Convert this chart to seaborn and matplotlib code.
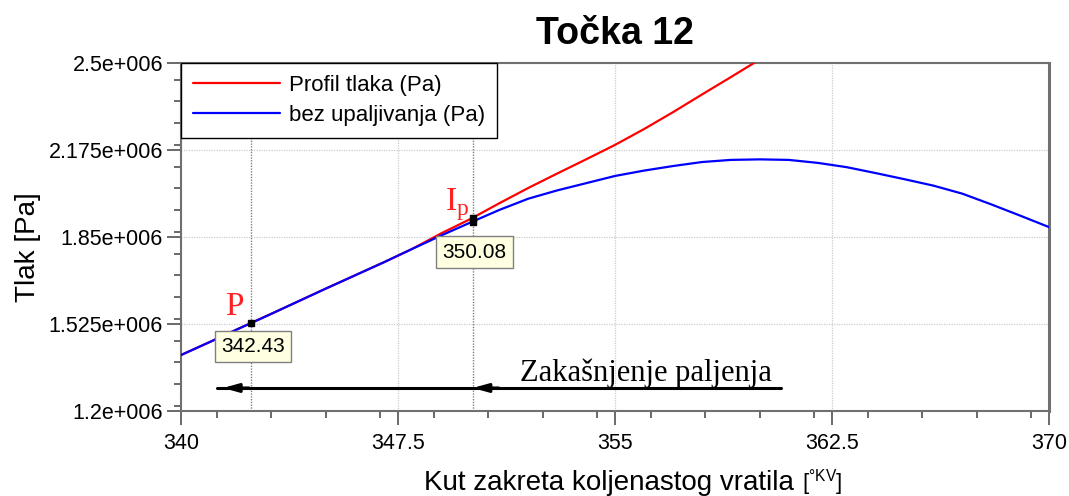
import numpy as np
import pandas as pd
import matplotlib
matplotlib.use("Agg")
import matplotlib.pyplot as plt
from matplotlib.ticker import FixedLocator, FixedFormatter, MultipleLocator
import seaborn as sns

# ---- data ----
angle_blue = [340, 341, 342, 343, 344, 345, 346, 347, 348, 349, 350, 351, 352, 353, 354,
              355, 356, 357, 358, 359, 360, 361, 362, 363, 364, 365, 366, 367, 368, 369, 370]
p_blue = [1.409, 1.458, 1.508, 1.557, 1.607, 1.657, 1.706, 1.755, 1.806, 1.856, 1.904, 1.951,
          1.993, 2.024, 2.051, 2.078, 2.098, 2.115, 2.130, 2.138, 2.140, 2.138, 2.127, 2.111,
          2.089, 2.066, 2.042, 2.012, 1.972, 1.930, 1.887]
angle_red = [340, 341, 342, 343, 344, 345, 346, 347, 348, 349, 350, 351, 352, 353, 354,
             355, 356, 357, 358, 359, 360, 360.5]
p_red = [1.409, 1.458, 1.508, 1.557, 1.607, 1.657, 1.706, 1.755, 1.806, 1.864, 1.917, 1.976,
         2.033, 2.087, 2.140, 2.194, 2.253, 2.316, 2.382, 2.447, 2.513, 2.546]

marker_x = [342.43, 350.08, 350.08]
marker_p = [1.529, 1.907, 1.921]
point_labels = ["342.43", "350.08"]
point_label_y = [1.529, 1.907]

delay_start, delay_end = 342.43, 350.08
arrow_span = [341.25, 360.75]
arrow_level = 1.286

yticks = [1.2, 1.525, 1.85, 2.175, 2.5]
ytick_labels = ["1.2e+006", "1.525e+006", "1.85e+006", "2.175e+006", "2.5e+006"]
xticks = [340, 347.5, 355, 362.5, 370]
xtick_labels = ["340", "347.5", "355", "362.5", "370"]

legend_labels = ["Profil tlaka (Pa)", "bez upaljivanja (Pa)"]

# ---- plot ----
sns.set_style("white")
plt.rcParams['font.family'] = ['Liberation Sans', 'DejaVu Sans']
plt.rcParams['text.color'] = 'black'
plt.rcParams['axes.labelcolor'] = 'black'
plt.rcParams['xtick.color'] = 'black'
plt.rcParams['ytick.color'] = 'black'

fig = plt.figure(figsize=(10.69, 4.96), dpi=100)
ax = fig.add_axes([181/1069, 1 - 411/496, (1049-181)/1069, (411-63)/496])

df_red = pd.DataFrame({"x": angle_red, "y": np.array(p_red) * 1e6})
df_blue = pd.DataFrame({"x": angle_blue, "y": np.array(p_blue) * 1e6})
sns.lineplot(data=df_red, x="x", y="y", ax=ax, color="#ff0000", lw=1.6, label=legend_labels[0], zorder=3)
sns.lineplot(data=df_blue, x="x", y="y", ax=ax, color="#0000ff", lw=1.6, label=legend_labels[1], zorder=4)

ax.set_xlim(340, 370)
ax.set_ylim(1.2e6, 2.5e6)

ax.xaxis.set_major_locator(FixedLocator(xticks))
ax.xaxis.set_major_formatter(FixedFormatter(xtick_labels))
ax.xaxis.set_minor_locator(MultipleLocator(1.875))
ax.yaxis.set_major_locator(FixedLocator([v * 1e6 for v in yticks]))
ax.yaxis.set_major_formatter(FixedFormatter(ytick_labels))
ax.yaxis.set_minor_locator(MultipleLocator(0.08125e6))

ax.tick_params(axis="both", which="major", direction="out", length=10, width=1.2,
               color="#505050", labelcolor="black", labelsize=15.5, pad=3, left=True, bottom=True)
ax.tick_params(axis="both", which="minor", direction="out", length=5, width=1.2,
               color="#505050", left=True, bottom=True)
ax.tick_params(axis="x", pad=6)

ax.grid(True, which="major", color="#cccccc", linestyle=(0, (1, 1)), lw=0.9)
for s in ax.spines.values():
    s.set_color("#707070")
    s.set_linewidth(1.5)
ax.spines["right"].set_linewidth(2.2)

for xv in [delay_start, delay_end]:
    ax.axvline(xv, color="#808080", linestyle=(0, (1, 1)), lw=1.0, zorder=2)

ax.plot(marker_x, [v * 1e6 for v in marker_p], linestyle="none", marker="s",
        ms=4, color="black", zorder=6)

offsets = [(-21.6, -10), (-21.6, -15)]
for xv, yv, txt, off in zip([delay_start, delay_end], point_label_y, point_labels, offsets):
    ax.annotate(txt, xy=(xv, yv * 1e6), xytext=off, textcoords="offset points",
                ha="left", va="top", fontsize=15, color="black",
                bbox=dict(boxstyle="square,pad=0.3", fc="#ffffe1", ec="#808080", lw=1.0),
                zorder=7)

ax.text(341.52, 1.5587e6, "P", color="#ff2020", fontsize=24, family="Liberation Serif",
        ha="left", va="baseline", zorder=7)
ax.text(349.13, 1.951e6, r"I$_\mathregular{p}$", color="#ff2020", fontsize=24,
        family="Liberation Serif", ha="left", va="baseline", zorder=7)

# delay arrow
ax.plot(arrow_span, [arrow_level * 1e6] * 2, color="black", lw=2.2, zorder=5)
for tip in [341.45, delay_end]:
    ax.annotate("", xy=(tip, arrow_level * 1e6), xytext=(tip + 0.9, arrow_level * 1e6),
                arrowprops=dict(arrowstyle="-|>,head_length=0.9,head_width=0.25",
                                color="black", lw=2.2, shrinkA=0, shrinkB=0), zorder=6)
ax.text(351.72, 1.312e6, "Zakašnjenje paljenja", family="Liberation Serif",
        fontsize=22, ha="left", va="baseline", color="black", zorder=7)

leg = ax.legend(loc="upper left", bbox_to_anchor=(0, 1), borderaxespad=0, fontsize=16,
                frameon=True, fancybox=False, edgecolor="black", framealpha=1,
                handlelength=3.9, handletextpad=0.4, labelspacing=0.4, borderpad=0.55)
leg.get_frame().set_linewidth(1.0)
for t in leg.get_texts():
    t.set_color("black")
leg.set_zorder(10)

ax.set_title("Točka 12", fontsize=27, fontweight="bold", pad=14, color="black")
ax.set_ylabel("")
ax.set_xlabel("")
fig.text(28/1069, 1 - 247/496, "Tlak [Pa]", fontsize=20, rotation=90, ha="center", va="center")
fig.text(0.5692, 0.013, "Kut zakreta koljenastog vratila", fontsize=20, ha="center", va="baseline")
fig.text(0.7502, 0.013, r"[$^\mathregular{°KV}$]", fontsize=16, ha="left", va="baseline")

fig.savefig("out.png", dpi=100)
